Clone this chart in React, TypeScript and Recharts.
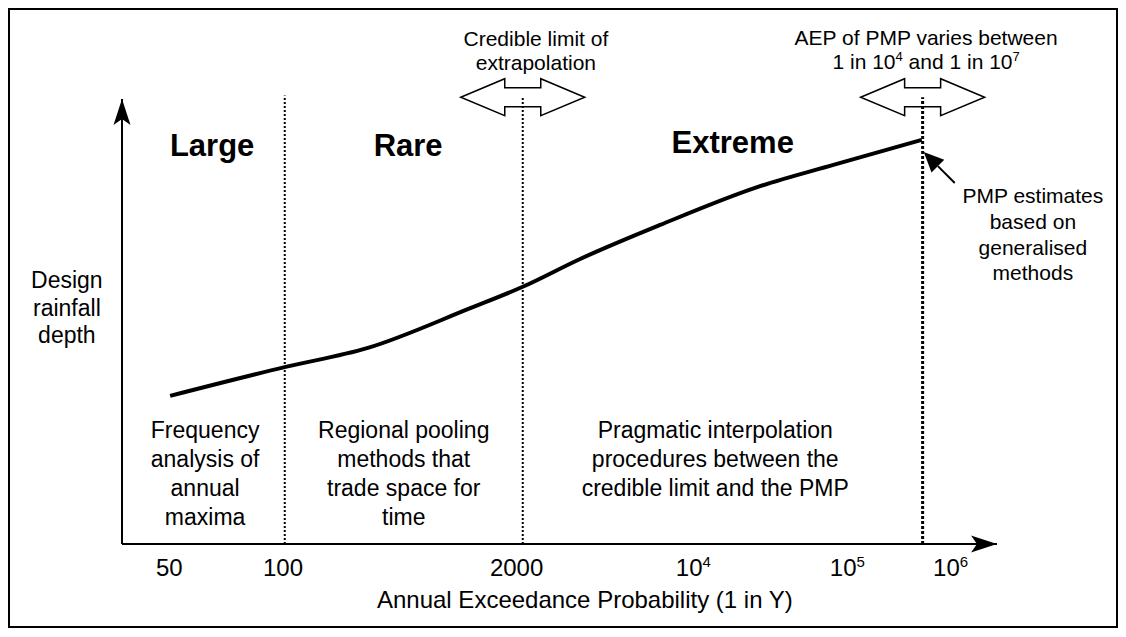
import React from 'react';
import { ComposedChart, Line, XAxis, YAxis, ReferenceLine, ReferenceDot } from 'recharts';

// ---- schematic data (x = position along the AEP axis, y = relative design depth) ----
const curvePosition = [5.5, 18.7, 28.0, 39.8, 45.8, 52.3, 61.5, 72.6, 81.3, 91.4];
const curveDepth = [33.3, 39.8, 44.0, 53.0, 57.8, 64.0, 71.7, 80.2, 85.2, 90.8];

const tickPositions = [5.4, 18.4, 45.1, 65.3, 82.9, 94.7];
const tickBases = ['50', '100', '2000', '10', '10', '10'];
const tickExponents = ['', '', '', '4', '5', '6'];

const boundaryPositions = [18.6, 45.8, 91.5];
const boundaryTops = [100.8, 100.4, 100.4];

const zoneNames = ['Large', 'Rare', 'Extreme'];
const zoneX = [10.3, 32.7, 69.8];
const zoneY = [89.7, 89.7, 90.3];

const methodLines = [
  ['Frequency', 'analysis of', 'annual', 'maxima'],
  ['Regional pooling', 'methods that', 'trade space for', 'time'],
  ['Pragmatic interpolation', 'procedures between the', 'credible limit and the PMP'],
];
const methodX = [9.5, 32.2, 67.8];
const methodY = 25.6;

const doubleArrowX = [45.8, 91.5];
const doubleArrowY = 100.4;

const data = curvePosition.map((p, i) => ({ pos: p, depth: curveDepth[i] }));

const FONT = '"Liberation Sans", Arial, sans-serif';

type Seg = { t: string; sup?: boolean };
type LineSpec = string | Seg[];

const renderLine = (line: LineSpec, size: number) => {
  if (typeof line === 'string') return line;
  const out: React.ReactNode[] = [];
  let shift = 0;
  line.forEach((s, k) => {
    const target = s.sup ? -0.42 * size : 0;
    out.push(
      <tspan key={k} dy={target - shift} fontSize={s.sup ? size * 0.62 : size}>
        {s.t}
      </tspan>
    );
    shift = target;
  });
  return out;
};

const textShape = (lines: LineSpec[], size: number, lead: number, bold = false) => (props: any) => {
  const { cx, cy } = props;
  if (cx == null || cy == null) return <g />;
  return (
    <text
      textAnchor="middle"
      fontFamily={FONT}
      fontSize={size}
      fontWeight={bold ? 'bold' : 'normal'}
      fill="#000"
    >
      {lines.map((l, i) => (
        <tspan key={i} x={cx} y={cy + size * 0.35 + i * lead}>
          {renderLine(l, size)}
        </tspan>
      ))}
    </text>
  );
};

const doubleArrowShape = (props: any) => {
  const { cx, cy } = props;
  const pts = [
    [-62, 0], [-18, -18.5], [-18, -9.5], [18, -9.5], [18, -18.5],
    [62, 0], [18, 18.5], [18, 9.5], [-18, 9.5], [-18, 18.5],
  ];
  return (
    <polygon
      points={pts.map(([dx, dy]) => `${cx + dx},${cy + dy}`).join(' ')}
      fill="none"
      stroke="#000"
      strokeWidth={1.5}
    />
  );
};

const xArrowHead = (props: any) => {
  const { cx, cy } = props;
  return (
    <polygon
      points={`${cx},${cy} ${cx - 26},${cy - 8.5} ${cx - 20},${cy} ${cx - 26},${cy + 8.5}`}
      fill="#000"
    />
  );
};

const yArrowHead = (props: any) => {
  const { cx, cy } = props;
  return (
    <polygon
      points={`${cx},${cy} ${cx - 8.5},${cy + 26} ${cx},${cy + 20} ${cx + 8.5},${cy + 26}`}
      fill="#000"
    />
  );
};

const pointerShape = (props: any) => {
  const { cx, cy } = props;
  const tipX = cx + 2;
  const tipY = cy + 12;
  const tailX = cx + 33;
  const tailY = cy + 43;
  const len = 20;
  const hw = 9;
  const d = Math.hypot(tailX - tipX, tailY - tipY);
  const ux = (tailX - tipX) / d;
  const uy = (tailY - tipY) / d;
  const bx = tipX + ux * len;
  const by = tipY + uy * len;
  return (
    <g>
      <line x1={tailX} y1={tailY} x2={bx} y2={by} stroke="#000" strokeWidth={2} />
      <polygon
        points={`${tipX},${tipY} ${bx - uy * hw},${by + ux * hw} ${bx + uy * hw},${by - ux * hw}`}
        fill="#000"
      />
    </g>
  );
};

const Tick = (props: any) => {
  const { x, y, payload } = props;
  const idx = tickPositions.indexOf(payload.value);
  if (idx < 0) return <g />;
  const exp = tickExponents[idx];
  return (
    <text x={x} y={y + 24} textAnchor="middle" fontFamily={FONT} fontSize={24} fill="#000">
      {tickBases[idx]}
      {exp ? (
        <tspan dy={-9} fontSize={15}>
          {exp}
        </tspan>
      ) : null}
    </text>
  );
};

export default function App() {
  const W = 1110;
  const H = 620;
  return (
    <div style={{ position: 'relative', width: W, height: H, background: '#fff' }}>
      <ComposedChart
        width={W}
        height={H}
        data={data}
        margin={{ top: 91, right: 121, bottom: 54, left: 114 }}
      >
        <XAxis
          type="number"
          dataKey="pos"
          domain={[0, 100]}
          ticks={tickPositions}
          tick={<Tick />}
          axisLine={false}
          tickLine={false}
          height={30}
          interval={0}
        />
        <YAxis type="number" domain={[0, 100]} hide />

        {boundaryPositions.map((bx, i) => (
          <ReferenceLine
            key={`b${i}`}
            segment={[{ x: bx, y: 0 }, { x: bx, y: boundaryTops[i] }]}
            stroke="#000"
            strokeWidth={i === 2 ? 3 : 2}
            strokeDasharray={i === 2 ? '3 2' : '2 2'}
            ifOverflow="visible"
          />
        ))}

        <ReferenceLine segment={[{ x: 0, y: 0 }, { x: 100, y: 0 }]} stroke="#000" strokeWidth={2} ifOverflow="visible" />
        <ReferenceLine segment={[{ x: 0, y: 0 }, { x: 0, y: 100 }]} stroke="#000" strokeWidth={2} ifOverflow="visible" />
        <ReferenceDot x={100} y={0} r={1} shape={xArrowHead} ifOverflow="visible" />
        <ReferenceDot x={0} y={100} r={1} shape={yArrowHead} ifOverflow="visible" />

        <Line
          type="monotone"
          dataKey="depth"
          stroke="#000"
          strokeWidth={4}
          dot={false}
          activeDot={false}
          isAnimationActive={false}
        />

        {doubleArrowX.map((ax, i) => (
          <ReferenceDot key={`da${i}`} x={ax} y={doubleArrowY} r={1} shape={doubleArrowShape} ifOverflow="visible" />
        ))}

        <ReferenceDot
          x={curvePosition[curvePosition.length - 1]}
          y={curveDepth[curveDepth.length - 1]}
          r={1}
          shape={pointerShape}
          ifOverflow="visible"
        />

        {zoneNames.map((z, i) => (
          <ReferenceDot key={`z${i}`} x={zoneX[i]} y={zoneY[i]} r={1} shape={textShape([z], 31, 0, true)} ifOverflow="visible" />
        ))}

        {methodLines.map((lines, i) => (
          <ReferenceDot key={`m${i}`} x={methodX[i]} y={methodY} r={1} shape={textShape(lines, 23, 29)} ifOverflow="visible" />
        ))}

        <ReferenceDot
          x={47.3}
          y={113.5}
          r={1}
          shape={textShape(['Credible limit of', 'extrapolation'], 21, 23.5)}
          ifOverflow="visible"
        />
        <ReferenceDot
          x={91.9}
          y={113.7}
          r={1}
          shape={textShape(
            [
              'AEP of PMP varies between',
              [{ t: '1 in 10' }, { t: '4', sup: true }, { t: ' and 1 in 10' }, { t: '7', sup: true }],
            ],
            21,
            24
          )}
          ifOverflow="visible"
        />
        <ReferenceDot
          x={104.1}
          y={78.2}
          r={1}
          shape={textShape(['PMP estimates', 'based on', 'generalised', 'methods'], 21, 25.7)}
          ifOverflow="visible"
        />
        <ReferenceDot
          x={-6.3}
          y={59.3}
          r={1}
          shape={textShape(['Design', 'rainfall', 'depth'], 23, 27.5)}
          ifOverflow="visible"
        />
        <ReferenceDot
          x={52.9}
          y={-12.6}
          r={1}
          shape={textShape(['Annual Exceedance Probability (1 in Y)'], 24, 0)}
          ifOverflow="visible"
        />
      </ComposedChart>
      <div
        style={{
          position: 'absolute',
          left: 0,
          top: 0,
          width: W,
          height: H,
          border: '2px solid #000',
          boxSizing: 'border-box',
          pointerEvents: 'none',
        }}
      />
    </div>
  );
}
